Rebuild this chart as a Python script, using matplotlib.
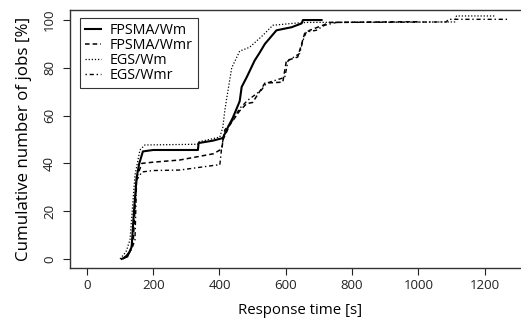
import matplotlib
matplotlib.use("Agg")
import matplotlib.pyplot as plt

# Data (response time [s], cumulative % of jobs)
fpsma_wm_x = [105, 122, 135, 142, 150, 158, 169, 200, 335, 337, 380, 410, 425, 440, 461, 467, 482, 506, 522, 537, 572, 618, 648, 652, 708]
fpsma_wm_y = [0, 1, 5, 20, 34, 40, 45, 45.6, 45.6, 48.5, 49.5, 50.6, 55, 59, 66, 72, 76, 83, 86.5, 90, 95.7, 97, 98.6, 100, 100]

fpsma_wmr_x = [108, 130, 140, 150, 166, 200, 280, 381, 407, 411, 431, 461, 482, 500, 521, 537, 591, 602, 636, 648, 657, 672, 712, 733, 1000]
fpsma_wmr_y = [0, 3, 8, 34, 40, 40.5, 41.4, 44, 46, 50, 56, 62, 65, 65.5, 70, 73.6, 74, 83, 84.5, 90, 94.4, 95.7, 97.8, 99, 99.3]

egs_wm_x = [100, 118, 130, 145, 160, 175, 335, 337, 401, 410, 416, 421, 437, 461, 491, 531, 561, 621, 663, 1110, 1115, 1230]
egs_wm_y = [0, 3, 8, 35, 45.6, 47.7, 48, 49, 51, 55, 62, 66.5, 80, 87, 88.6, 93.6, 97.8, 98.6, 99, 99.2, 101.7, 101.7]

egs_wmr_x = [110, 135, 145, 150, 166, 200, 280, 391, 401, 407, 416, 440, 461, 486, 526, 542, 597, 607, 642, 652, 662, 692, 717, 753, 1085, 1090, 1270]
egs_wmr_y = [0, 4, 8, 33, 36.4, 37, 37.2, 39.3, 39.3, 47, 54, 58, 63, 66.5, 70.6, 73.6, 76, 83, 86, 91.5, 95, 95.7, 97.8, 99, 99.2, 100.3, 100.3]

labels = ["FPSMA/Wm", "FPSMA/Wmr", "EGS/Wm", "EGS/Wmr"]
x_ticks = [0, 200, 400, 600, 800, 1000, 1200]
y_ticks = [0, 20, 40, 60, 80, 100]

plt.rcParams['font.family'] = ['Open Sans', 'DejaVu Sans']
FS = 9.5

W, H = 521, 326
fig = plt.figure(figsize=(W / 100, H / 100), dpi=100)
ax = fig.add_axes([70 / W, 58 / H, 461 / W, 258 / H])

ax.plot(fpsma_wm_x, fpsma_wm_y, color='black', lw=1.5, ls='-', label=labels[0])
ax.plot(fpsma_wmr_x, fpsma_wmr_y, color='black', lw=1.1, ls=(0, (3, 2)), label=labels[1])
ax.plot(egs_wm_x, egs_wm_y, color='black', lw=0.9, ls=(0, (1, 1.5)), label=labels[2])
ax.plot(egs_wmr_x, egs_wmr_y, color='black', lw=1.0, ls=(0, (1, 2, 3, 2)), label=labels[3])

ax.set_xlim(-51, 1340)
ax.set_ylim(-3.8, 104.2)
ax.set_xticks(x_ticks)
ax.set_yticks(y_ticks)
ax.tick_params(direction='out', length=5, width=0.8, colors='#222222', labelsize=FS)
ax.tick_params(axis='y', pad=5)
ax.tick_params(axis='x', pad=3)
for lab in ax.get_yticklabels():
    lab.set_rotation(90)
    lab.set_va('center')
for name, s in ax.spines.items():
    s.set_color('#333333')
    s.set_linewidth(1.0)
ax.spines['right'].set_visible(False)

ax.set_xlabel("Response time [s]", fontsize=10.8, labelpad=8)
ax.set_ylabel("Cumulative number of jobs [%]", fontsize=12.2, labelpad=8)

leg = ax.legend(loc='upper left', bbox_to_anchor=(80 / W, 1 - 18 / H), bbox_transform=fig.transFigure,
                borderaxespad=0, fontsize=10.3, handlelength=1.15, handletextpad=0.6,
                labelspacing=0.0, borderpad=0.35, fancybox=False, framealpha=1)
leg.get_frame().set_edgecolor('#333333')
leg.get_frame().set_linewidth(0.8)

fig.savefig("out.png", dpi=100)
